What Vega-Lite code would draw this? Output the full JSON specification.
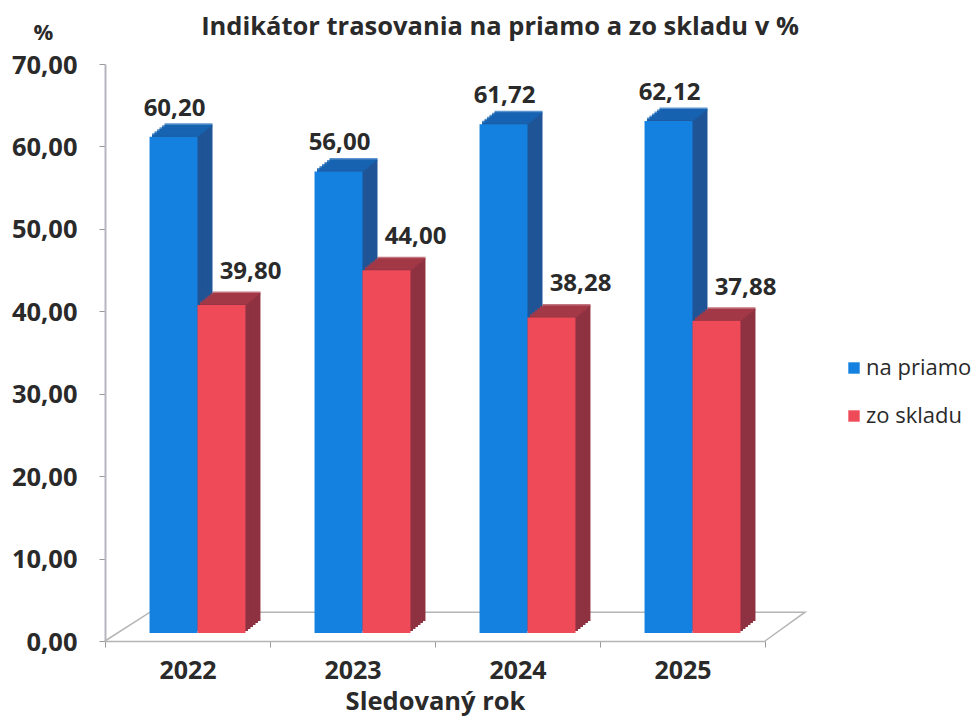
{
"$schema":"https://vega.github.io/schema/vega-lite/v6.json",
"width":660,"height":577,
"autosize":{"type":"none"},
"padding":{"left":105,"top":64,"right":209,"bottom":79},
"background":"white",
"title":{"text":"Indikátor trasovania na priamo a zo skladu v %","font":"Open Sans","fontSize":25.5,"fontWeight":"bold","color":"#2a2a2a","anchor":"middle","dx":65,"offset":-19},
"config":{"view":{"stroke":null},"font":"Open Sans"},
"data":{"values":[
{"rok":"2022","serie":"na priamo","hodnota":60.20,"label":"60,20"},
{"rok":"2023","serie":"na priamo","hodnota":56.00,"label":"56,00"},
{"rok":"2024","serie":"na priamo","hodnota":61.72,"label":"61,72"},
{"rok":"2025","serie":"na priamo","hodnota":62.12,"label":"62,12"},
{"rok":"2022","serie":"zo skladu","hodnota":39.80,"label":"39,80"},
{"rok":"2023","serie":"zo skladu","hodnota":44.00,"label":"44,00"},
{"rok":"2024","serie":"zo skladu","hodnota":38.28,"label":"38,28"},
{"rok":"2025","serie":"zo skladu","hodnota":37.88,"label":"37,88"}
]},
"encoding":{
"xOffset":{"field":"serie","type":"nominal","scale":{"domain":["na priamo","zo skladu"],"paddingInner":0,"paddingOuter":0.72}},
"y":{"field":"hodnota","type":"quantitative","scale":{"domain":[0,70],"nice":false},
  "axis":{"title":"%","titleAngle":0,"titleAlign":"center","titleBaseline":"middle","titleX":-62,"titleY":-32,"titleFontSize":22,"titleFontWeight":"bold","titleColor":"#2a2a2a","values":[0,10,20,30,40,50,60,70],"labelExpr":"replace(format(datum.value,'.2f'),'.',',')","labelFontSize":25.5,"labelFontWeight":"bold","labelColor":"#2a2a2a","labelPadding":22,"labelOffset":1,"tickColor":"#9a9a9a","tickSize":6,"domainColor":"#b5b5c0","domainWidth":2,"grid":false}}
},
"layer":[
{"data":{"values":[{"fx":0,"hodnota":0},{"fx":45,"hodnota":3.5},{"fx":700,"hodnota":3.5},{"fx":660,"hodnota":0}]},
 "mark":{"type":"line","color":"#b5b5b5","strokeWidth":1.5,"clip":false,"order":false},
 "encoding":{"x":{"field":"fx","type":"quantitative","axis":null,"scale":{"domain":[0,660],"nice":false,"zero":false}},"xOffset":null}},
{"mark":{"type":"bar","yOffset":-20},"encoding":{"x":{"field":"rok","type":"nominal","axis":null,"scale":{"paddingInner":0,"paddingOuter":0,"range":[25,685]}},"color":{"field":"serie","legend":null,"scale":{"range":["#1f5596","#8e3242"]}}}},
{"mark":{"type":"bar","yOffset":-18},"encoding":{"x":{"field":"rok","type":"nominal","axis":null,"scale":{"paddingInner":0,"paddingOuter":0,"range":[22.5,682.5]}},"color":{"field":"serie","legend":null,"scale":{"range":["#1f5596","#8e3242"]}}}},
{"mark":{"type":"bar","yOffset":-16},"encoding":{"x":{"field":"rok","type":"nominal","axis":null,"scale":{"paddingInner":0,"paddingOuter":0,"range":[20,680]}},"color":{"field":"serie","legend":null,"scale":{"range":["#1f5596","#8e3242"]}}}},
{"mark":{"type":"bar","yOffset":-14},"encoding":{"x":{"field":"rok","type":"nominal","axis":null,"scale":{"paddingInner":0,"paddingOuter":0,"range":[17.5,677.5]}},"color":{"field":"serie","legend":null,"scale":{"range":["#1f5596","#8e3242"]}}}},
{"mark":{"type":"bar","yOffset":-12},"encoding":{"x":{"field":"rok","type":"nominal","axis":null,"scale":{"paddingInner":0,"paddingOuter":0,"range":[15,675]}},"color":{"field":"serie","legend":null,"scale":{"range":["#1f5596","#8e3242"]}}}},
{"mark":{"type":"bar","yOffset":-10},"encoding":{"x":{"field":"rok","type":"nominal","axis":null,"scale":{"paddingInner":0,"paddingOuter":0,"range":[12.5,672.5]}},"color":{"field":"serie","legend":null,"scale":{"range":["#1f5596","#8e3242"]}}}},
{"mark":{"type":"tick","size":48,"thickness":3,"yOffset":-20},"encoding":{"x":{"field":"rok","type":"nominal","axis":null,"scale":{"paddingInner":0,"paddingOuter":0,"range":[25,685]}},"color":{"field":"serie","legend":null,"scale":{"range":["#1666b8","#a83a48"]}}}},
{"mark":{"type":"tick","size":48,"thickness":3,"yOffset":-18},"encoding":{"x":{"field":"rok","type":"nominal","axis":null,"scale":{"paddingInner":0,"paddingOuter":0,"range":[22.5,682.5]}},"color":{"field":"serie","legend":null,"scale":{"range":["#1666b8","#a83a48"]}}}},
{"mark":{"type":"tick","size":48,"thickness":3,"yOffset":-16},"encoding":{"x":{"field":"rok","type":"nominal","axis":null,"scale":{"paddingInner":0,"paddingOuter":0,"range":[20,680]}},"color":{"field":"serie","legend":null,"scale":{"range":["#1666b8","#a83a48"]}}}},
{"mark":{"type":"tick","size":48,"thickness":3,"yOffset":-14},"encoding":{"x":{"field":"rok","type":"nominal","axis":null,"scale":{"paddingInner":0,"paddingOuter":0,"range":[17.5,677.5]}},"color":{"field":"serie","legend":null,"scale":{"range":["#1666b8","#a83a48"]}}}},
{"mark":{"type":"tick","size":48,"thickness":3,"yOffset":-12},"encoding":{"x":{"field":"rok","type":"nominal","axis":null,"scale":{"paddingInner":0,"paddingOuter":0,"range":[15,675]}},"color":{"field":"serie","legend":null,"scale":{"range":["#1666b8","#a83a48"]}}}},
{"mark":{"type":"tick","size":48,"thickness":3,"yOffset":-10},"encoding":{"x":{"field":"rok","type":"nominal","axis":null,"scale":{"paddingInner":0,"paddingOuter":0,"range":[12.5,672.5]}},"color":{"field":"serie","legend":null,"scale":{"range":["#1666b8","#a83a48"]}}}},
{"mark":{"type":"bar","yOffset":-8},
 "encoding":{
 "x":{"field":"rok","type":"nominal","axis":null,"scale":{"paddingInner":0,"paddingOuter":0,"range":[10,670]}},
 "color":{"field":"serie","type":"nominal","title":null,"scale":{"range":["#1480e0","#ee4a58"]},
  "legend":{"orient":"none","legendX":738,"legendY":293,"symbolType":"square","symbolSize":130,"symbolStrokeWidth":0,"labelFontSize":22,"labelColor":"#2a2a2a","rowPadding":26,"labelOffset":1}}}},
{"transform":[{"filter":"datum.serie==='na priamo'"}],
 "mark":{"type":"text","font":"Open Sans","fontSize":24,"fontWeight":"bold","color":"#2a2a2a","dx":-13,"yOffset":-36},
 "encoding":{"text":{"field":"label"},"xOffset":null,
 "x":{"field":"rok","type":"nominal","scale":{"paddingInner":0,"paddingOuter":0,"range":[0,660]},
  "axis":{"title":"Sledovaný rok","titleFontSize":25.5,"titleFontWeight":"bold","titleColor":"#2a2a2a","titlePadding":6,"labelAngle":0,"labelFontSize":25,"labelFontWeight":"bold","labelColor":"#2a2a2a","labelPadding":11,"tickBand":"extent","tickColor":"#9a9a9a","tickSize":6,"domainColor":"#b5b5b5","domainWidth":1.5,"grid":false}}}},
{"transform":[{"filter":"datum.serie==='zo skladu'"}],
 "mark":{"type":"text","font":"Open Sans","fontSize":24,"fontWeight":"bold","color":"#2a2a2a","dx":63,"yOffset":-41},
 "encoding":{"text":{"field":"label"},"xOffset":null,
 "x":{"field":"rok","type":"nominal","axis":null,"scale":{"paddingInner":0,"paddingOuter":0,"range":[0,660]}}}}
],
"resolve":{"scale":{"x":"independent","xOffset":"independent","color":"independent"}}
}
